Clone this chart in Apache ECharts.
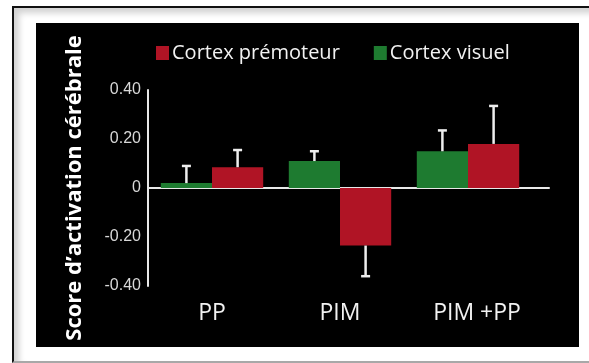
<!DOCTYPE html>
<html>
<head>
<meta charset="utf-8">
<script src="https://cdn.jsdelivr.net/npm/echarts@6/dist/echarts.min.js"></script>
<style>
  html, body { margin: 0; padding: 0; background: #fff; width: 589px; height: 363px; overflow: hidden; }
  .frame {
    position: absolute; left: 12px; top: 6px; width: 620px; height: 353px;
    border-left: 2px solid #111; border-top: 2px solid #111; border-bottom: 2px solid #a8a8a8;
    box-shadow: inset 5px 5px 6px rgba(0,0,0,0.18);
  }
  .panel { position: absolute; left: 36px; top: 23px; width: 543px; height: 324px; background: #000; }
  #chart { position: absolute; left: 0; top: 0; width: 589px; height: 363px; }
</style>
</head>
<body>
<div class="frame"></div>
<div class="panel"></div>
<div id="chart"></div>
<script>
// Conditions and mean activation scores per region
const categories = ['PP', 'PIM', 'PIM +PP'];
const visuelMeans = [0.02, 0.11, 0.15];
const visuelErrors = [0.07, 0.04, 0.085];
const premoteurMeans = [0.085, -0.235, 0.18];
const premoteurErrors = [0.07, 0.125, 0.155];
const yTicks = [-0.4, -0.2, 0, 0.2, 0.4];

const GREEN = '#1E7B30';
const RED = '#B01425';
const BAR_SHARE = 0.4; // each bar takes 40% of a category band

// One-sided error bar (upward for positive means, downward for negative ones)
function errorBars(means, errors, side) {
  return {
    type: 'custom',
    xAxisIndex: 1, yAxisIndex: 1,
    z: 5,
    silent: true,
    data: means.map((m, i) => [i, m, m + Math.sign(m || 1) * errors[i]]),
    renderItem: function (params, api) {
      const band = api.size([1, 0])[0];
      const dx = side * band * BAR_SHARE / 2;
      const p0 = api.coord([api.value(0), api.value(1)]);
      const p1 = api.coord([api.value(0), api.value(2)]);
      const x = p0[0] + dx;
      const capHalf = 4.5;
      const st = { stroke: '#eeeeee', lineWidth: 2.5 };
      return {
        type: 'group',
        children: [
          { type: 'line', shape: { x1: x, y1: p0[1], x2: x, y2: p1[1] }, style: st },
          { type: 'line', shape: { x1: x - capHalf, y1: p1[1], x2: x + capHalf, y2: p1[1] }, style: st }
        ]
      };
    }
  };
}

// The last condition label sits a little right of its bar pair
const categoryItems = categories.map((c, i) =>
  i === categories.length - 1 ? { value: c, textStyle: { padding: [0, 0, 0, 18] } } : c);

const chart = echarts.init(document.getElementById('chart'));
chart.setOption({
  backgroundColor: 'transparent',
  animation: false,
  legend: {
    data: ['Cortex prémoteur', 'Cortex visuel'],
    left: 151, top: 38,
    icon: 'rect', itemWidth: 13, itemHeight: 14, itemGap: 34,
    textStyle: { color: '#f2f2f2', fontFamily: 'Open Sans', fontSize: 20, padding: [0, 0, 0, -2] }
  },
  grid: [
    { left: 148, right: 40, top: 90, bottom: 77 },
    { left: 148, width: 384, top: 90, bottom: 77 }
  ],
  xAxis: [
    {
      gridIndex: 0, type: 'value', min: 0, max: 1,
      axisLine: { show: true, onZero: true, lineStyle: { color: '#e8e8e8', width: 2 } },
      axisTick: { show: false }, axisLabel: { show: false }, splitLine: { show: false }
    },
    {
      gridIndex: 1, type: 'category', data: categoryItems,
      axisLine: { show: false }, axisTick: { show: false },
      position: 'bottom',
      axisLabel: {
        color: '#f2f2f2', fontFamily: 'Open Sans', fontSize: 23, margin: 16
      }
    }
  ],
  yAxis: [
    {
      gridIndex: 0, type: 'value', min: yTicks[0], max: yTicks[yTicks.length - 1], interval: 0.2,
      name: 'Score d\u2019activation cérébrale',
      nameLocation: 'middle', nameGap: 62, nameRotate: 90,
      nameTextStyle: { color: '#ffffff', fontFamily: 'Open Sans', fontWeight: 'bold', fontSize: 22 },
      axisLine: { show: true, lineStyle: { color: '#e8e8e8', width: 2 } },
      axisTick: { show: false }, splitLine: { show: false },
      axisLabel: {
        color: '#d8d8d8', fontFamily: 'Liberation Sans', fontSize: 16, margin: 7,
        formatter: v => (Math.abs(v) < 1e-9 ? '0' : v.toFixed(2))
      }
    },
    {
      gridIndex: 1, type: 'value', min: yTicks[0], max: yTicks[yTicks.length - 1],
      show: false
    }
  ],
  series: [
    {
      name: 'Cortex visuel', type: 'bar', xAxisIndex: 1, yAxisIndex: 1,
      data: visuelMeans, itemStyle: { color: GREEN },
      barGap: '0%', barCategoryGap: '20%'
    },
    {
      name: 'Cortex prémoteur', type: 'bar', xAxisIndex: 1, yAxisIndex: 1,
      data: premoteurMeans, itemStyle: { color: RED },
      barGap: '0%', barCategoryGap: '20%'
    },
    errorBars(visuelMeans, visuelErrors, -1),
    errorBars(premoteurMeans, premoteurErrors, 1)
  ]
});
</script>
</body>
</html>
